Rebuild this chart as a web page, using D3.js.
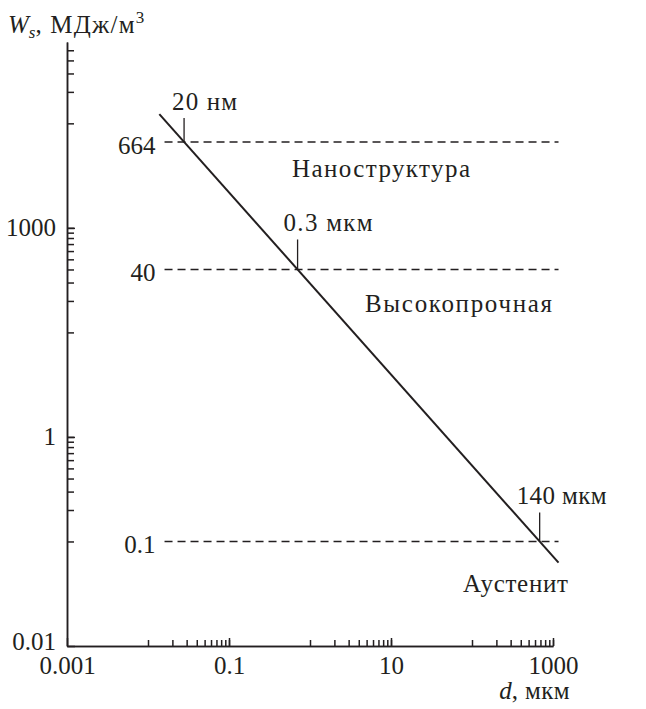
<!DOCTYPE html>
<html>
<head>
<meta charset="utf-8">
<script src="https://cdn.jsdelivr.net/npm/d3@7"></script>
<style>
  body { margin: 0; background: #fff; }
  svg { display: block; }
  svg text { font-family: "Liberation Serif", Tinos, "Times New Roman", Times, "DejaVu Serif", serif; fill: #231f20; }
</style>
</head>
<body>
<div id="chart"></div>
<script>
// tick labels
const xMajor = [0.001, 0.1, 10, 1000];
const xMajorLabels = ["0.001", "0.1", "10", "1000"];
const xMinorDecades = [0.01, 1, 100];
const yMajor = [0.01, 1, 100];
const yMajorLabels = ["0.01", "1", "1000"];
const yMinorDecades = [0.1, 10];
const yMinorTop = [1000, 2000, 3000, 4000, 5000];

// W_s vs d line (two end points on log-log)
const lineD = [0.0138, 1170];
const lineW = [1225, 0.0627];

// horizontal dashed levels
const levels = [664, 40, 0.1];
const levelLabels = ["664", "40", "0.1"];
const levelFrom = 0.016, levelTo = 1170;

// marks where the line crosses the levels
const crossLabels = ["20 нм", "0.3 мкм", "140 мкм"];
const regionLabels = ["Наноструктура", "Высокопрочная", "Аустенит"];

(function chart() {
    const width = 646,
        height = 709,
        margin = ({ top: 42, right: 93, bottom: 63, left: 67 });

    const svg = d3.select("#chart")
        .append("svg")
        .attr("width", width)
        .attr("height", height)
        .attr("viewBox", [0, 0, width, height]);

    const x = d3.scaleLog()
        .domain([0.001, 1000])
        .range([margin.left, width - margin.right]);

    const y = d3.scaleLog()
        .domain([0.01, 6000])
        .range([height - margin.bottom, margin.top]);

    const ink = "#231f20";
    const fs = 25;
    const serif = "'Liberation Serif', Tinos, 'Times New Roman', Times, 'DejaVu Serif', serif";

    let minor = decs => decs.flatMap(d => d3.range(1, 11).map(k => k * d));

    // x axis: minor ticks, then labelled ticks
    svg.append("g")
        .attr("transform", `translate(0,${height - margin.bottom})`)
        .call(d3.axisBottom(x).tickValues(minor(xMinorDecades))
            .tickSize(-6).tickSizeOuter(0).tickFormat(""));
    svg.append("g")
        .attr("class", "xmaj")
        .attr("transform", `translate(0,${height - margin.bottom})`)
        .call(d3.axisBottom(x).tickValues(xMajor)
            .tickSize(-8).tickSizeOuter(0).tickPadding(10)
            .tickFormat((d, i) => xMajorLabels[i]));

    // y axis
    svg.append("g")
        .attr("transform", `translate(${margin.left},0)`)
        .call(d3.axisLeft(y).tickValues(minor(yMinorDecades).concat(yMinorTop))
            .tickSize(-7).tickSizeOuter(0).tickFormat(""));
    svg.append("g")
        .attr("class", "ymaj")
        .attr("transform", `translate(${margin.left},0)`)
        .call(d3.axisLeft(y).tickValues(yMajor)
            .tickSize(-8).tickSizeOuter(0).tickPadding(11)
            .tickFormat((d, i) => yMajorLabels[i]));

    svg.selectAll("g").attr("font-family", serif);
    svg.selectAll(".domain, .tick line")
        .attr("stroke", ink)
        .attr("stroke-width", 1.5);
    svg.selectAll(".tick text")
        .attr("font-size", fs)
        .attr("fill", ink);
    // lowest y label sits a little above the corner
    svg.select(".ymaj .tick text").attr("dy", "0.15em");

    // dashed levels
    svg.append("g")
        .selectAll("line")
        .data(levels)
        .join("line")
        .attr("x1", x(levelFrom))
        .attr("x2", x(levelTo))
        .attr("y1", d => y(d))
        .attr("y2", d => y(d))
        .attr("stroke", ink)
        .attr("stroke-width", 1.6)
        .attr("stroke-dasharray", "8,5");

    svg.append("g")
        .selectAll("text")
        .data(levels)
        .join("text")
        .attr("x", x(levelFrom) - 9)
        .attr("y", d => y(d) + 3)
        .attr("dy", "0.35em")
        .attr("text-anchor", "end")
        .attr("font-size", fs)
        .text((d, i) => levelLabels[i]);

    // the main line
    let lineData = lineD.map((d, i) => ({ d: d, w: lineW[i] }));
    let line = d3.line()
        .x(p => x(p.d))
        .y(p => y(p.w));

    svg.append("path")
        .datum(lineData)
        .attr("d", line)
        .attr("fill", "none")
        .attr("stroke", ink)
        .attr("stroke-width", 2);

    // crossing of the line with each level (log-log straight line)
    let slope = Math.log10(lineW[1] / lineW[0]) / Math.log10(lineD[1] / lineD[0]);
    let crossD = w => lineD[0] * Math.pow(10, Math.log10(w / lineW[0]) / slope);

    const markLen = [24, 30, 29];
    const labelShift = [-12, -14, -23];
    const labelWidth = [65, 89, 90];

    levels.forEach((w, i) => {
        let cx = x(crossD(w)), cy = y(w);
        svg.append("line")
            .attr("x1", cx).attr("x2", cx)
            .attr("y1", cy).attr("y2", cy - markLen[i])
            .attr("stroke", ink)
            .attr("stroke-width", 1.3);
        svg.append("text")
            .attr("x", cx + labelShift[i])
            .attr("y", cy - markLen[i] - 8)
            .attr("font-size", fs)
            .attr("textLength", labelWidth[i])
            .attr("lengthAdjust", "spacing")
            .text(crossLabels[i]);
    });

    // region names
    const regionPos = [[292, 177, 178], [365, 312, 187], [463, 592, 105]];
    svg.append("g")
        .selectAll("text")
        .data(regionLabels)
        .join("text")
        .attr("x", (d, i) => regionPos[i][0])
        .attr("y", (d, i) => regionPos[i][1])
        .attr("textLength", (d, i) => regionPos[i][2])
        .attr("lengthAdjust", "spacing")
        .attr("font-size", fs)
        .text(d => d);

    // axis titles
    let yt = svg.append("text")
        .attr("x", 8)
        .attr("y", 33)
        .attr("font-size", fs);
    yt.append("tspan").attr("font-style", "italic").text("W");
    yt.append("tspan").attr("font-style", "italic").attr("font-size", 17).attr("dy", 5).text("s");
    yt.append("tspan").attr("dy", -5).attr("letter-spacing", 1.2).text(", МДж/м");
    yt.append("tspan").attr("font-size", 17).attr("dy", -10).text("3");

    let xt = svg.append("text")
        .attr("x", 570)
        .attr("y", 699)
        .attr("text-anchor", "end")
        .attr("font-size", fs);
    xt.append("tspan").attr("font-style", "italic").text("d");
    xt.append("tspan").attr("letter-spacing", 0.4).text(", мкм");
})();
</script>
</body>
</html>
